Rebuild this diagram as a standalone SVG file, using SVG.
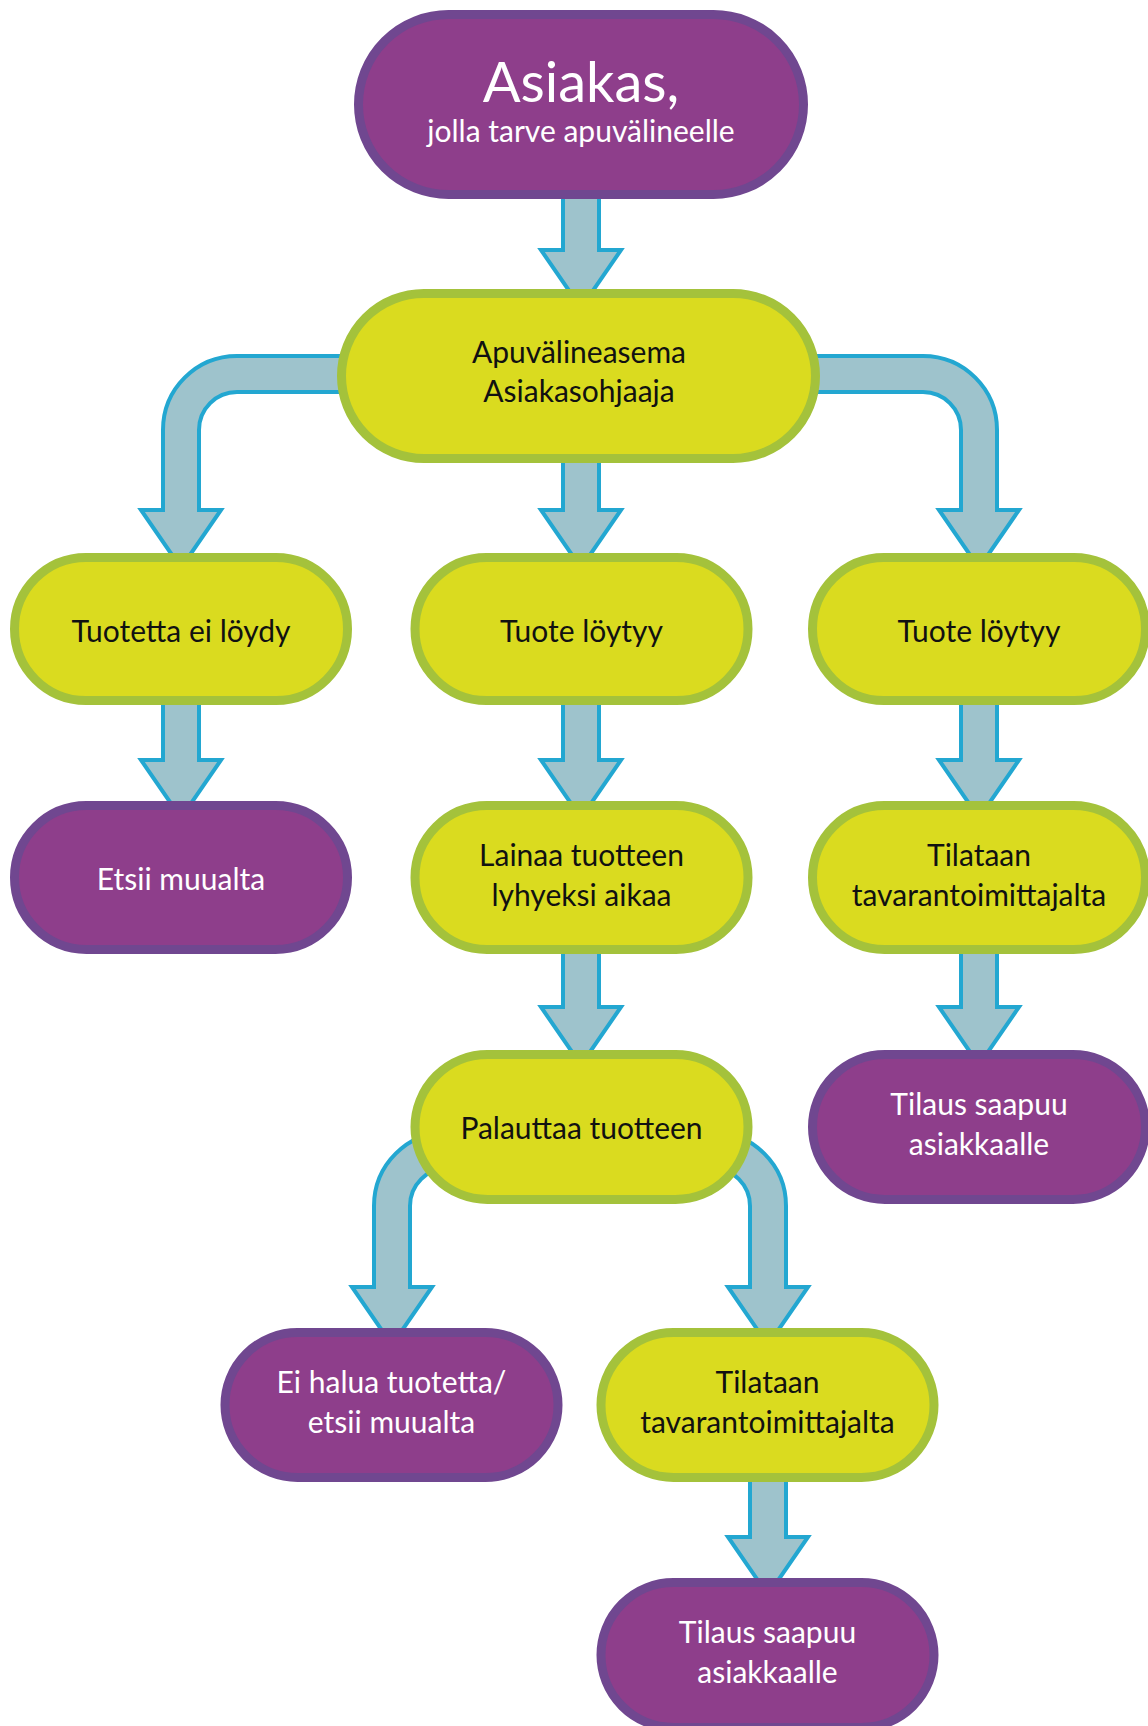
<svg xmlns="http://www.w3.org/2000/svg" width="1148" height="1726" viewBox="0 0 1148 1726">
<style>
.arrow{fill:#9EC3CC;stroke:#23A7D1;stroke-width:4;stroke-linejoin:miter}
.y{fill:#DADB1F;stroke:#A4C23B;stroke-width:9}
.p{fill:#8E3E8B;stroke:#704790;stroke-width:9}
text{font-family:Lato,"Open Sans","DejaVu Sans",sans-serif;text-anchor:middle;font-size:30px}
.tb{fill:#111}
.tw{fill:#fff}
</style>
<rect width="1148" height="1726" fill="#fff"/>
<g id="connectors">
<path class="arrow" d="M563,190 L563,250 L541,250 L581,308 L621,250 L599,250 L599,190 Z"/>
<path class="arrow" d="M563,455 L563,510 L541,510 L581,568 L621,510 L599,510 L599,455 Z"/>
<path class="arrow" d="M420,356 L237,356 A74,74 0 0 0 163,430 L163,510 L141,510 L181,568 L221,510 L199,510 L199,430 A38,38 0 0 1 237,392 L420,392 Z"/>
<path class="arrow" d="M740,356 L923,356 A74,74 0 0 1 997,430 L997,510 L1019,510 L979,568 L939,510 L961,510 L961,430 A38,38 0 0 0 923,392 L740,392 Z"/>
<path class="arrow" d="M163,700 L163,760 L141,760 L181,818 L221,760 L199,760 L199,700 Z"/>
<path class="arrow" d="M563,700 L563,760 L541,760 L581,818 L621,760 L599,760 L599,700 Z"/>
<path class="arrow" d="M961,700 L961,760 L939,760 L979,818 L1019,760 L997,760 L997,700 Z"/>
<path class="arrow" d="M563,948 L563,1007 L541,1007 L581,1065 L621,1007 L599,1007 L599,948 Z"/>
<path class="arrow" d="M961,948 L961,1007 L939,1007 L979,1065 L1019,1007 L997,1007 L997,948 Z"/>
<path class="arrow" d="M520,1132 L448,1132 A74,74 0 0 0 374,1206 L374,1287 L352,1287 L392,1345 L432,1287 L410,1287 L410,1206 A38,38 0 0 1 448,1168 L520,1168 Z"/>
<path class="arrow" d="M640,1132 L712,1132 A74,74 0 0 1 786,1206 L786,1287 L808,1287 L768,1345 L728,1287 L750,1287 L750,1206 A38,38 0 0 0 712,1168 L640,1168 Z"/>
<path class="arrow" d="M750,1475 L750,1537 L728,1537 L768,1595 L808,1537 L786,1537 L786,1475 Z"/>
</g>
<g id="asiakas">
<rect class="p" x="358.5" y="14.5" width="445" height="180" rx="90"/>
<text class="tw" x="581" y="102" style="font-size:56px">Asiakas,</text>
<text class="tw" x="581" y="142">jolla tarve apuvälineelle</text>
</g>
<g id="apuvalineasema">
<rect class="y" x="341.5" y="293.5" width="474" height="165" rx="82.5"/>
<text class="tb" x="579" y="363">Apuvälineasema</text>
<text class="tb" x="579" y="402">Asiakasohjaaja</text>
</g>
<g id="tuotetta-ei-loydy">
<rect class="y" x="14.5" y="557.5" width="333" height="143" rx="71.5"/>
<text class="tb" x="181" y="642">Tuotetta ei löydy</text>
</g>
<g id="tuote-loytyy-1">
<rect class="y" x="415" y="557.5" width="333" height="143" rx="71.5"/>
<text class="tb" x="581.5" y="642">Tuote löytyy</text>
</g>
<g id="tuote-loytyy-2">
<rect class="y" x="812.5" y="557.5" width="333" height="143" rx="71.5"/>
<text class="tb" x="979" y="642">Tuote löytyy</text>
</g>
<g id="etsii-muualta">
<rect class="p" x="14.5" y="805.5" width="333" height="144" rx="72"/>
<text class="tw" x="181" y="890">Etsii muualta</text>
</g>
<g id="lainaa">
<rect class="y" x="415" y="805.5" width="333" height="144" rx="72"/>
<text class="tb" x="581.5" y="866">Lainaa tuotteen</text>
<text class="tb" x="581.5" y="906">lyhyeksi aikaa</text>
</g>
<g id="tilataan-1">
<rect class="y" x="812.5" y="805.5" width="333" height="144" rx="72"/>
<text class="tb" x="979" y="866">Tilataan</text>
<text class="tb" x="979" y="906">tavarantoimittajalta</text>
</g>
<g id="palauttaa">
<rect class="y" x="415" y="1054.5" width="333" height="145" rx="72.5"/>
<text class="tb" x="581.5" y="1139">Palauttaa tuotteen</text>
</g>
<g id="tilaus-saapuu-1">
<rect class="p" x="812.5" y="1054.5" width="333" height="145" rx="72.5"/>
<text class="tw" x="979" y="1115">Tilaus saapuu</text>
<text class="tw" x="979" y="1155">asiakkaalle</text>
</g>
<g id="ei-halua">
<rect class="p" x="225" y="1332.5" width="333" height="145" rx="72.5"/>
<text class="tw" x="391.5" y="1393">Ei halua tuotetta/</text>
<text class="tw" x="391.5" y="1433">etsii muualta</text>
</g>
<g id="tilataan-2">
<rect class="y" x="601" y="1332.5" width="333" height="145" rx="72.5"/>
<text class="tb" x="767.5" y="1393">Tilataan</text>
<text class="tb" x="767.5" y="1433">tavarantoimittajalta</text>
</g>
<g id="tilaus-saapuu-2">
<rect class="p" x="601" y="1582.5" width="333" height="145" rx="72.5"/>
<text class="tw" x="767.5" y="1643">Tilaus saapuu</text>
<text class="tw" x="767.5" y="1683">asiakkaalle</text>
</g>
</svg>
